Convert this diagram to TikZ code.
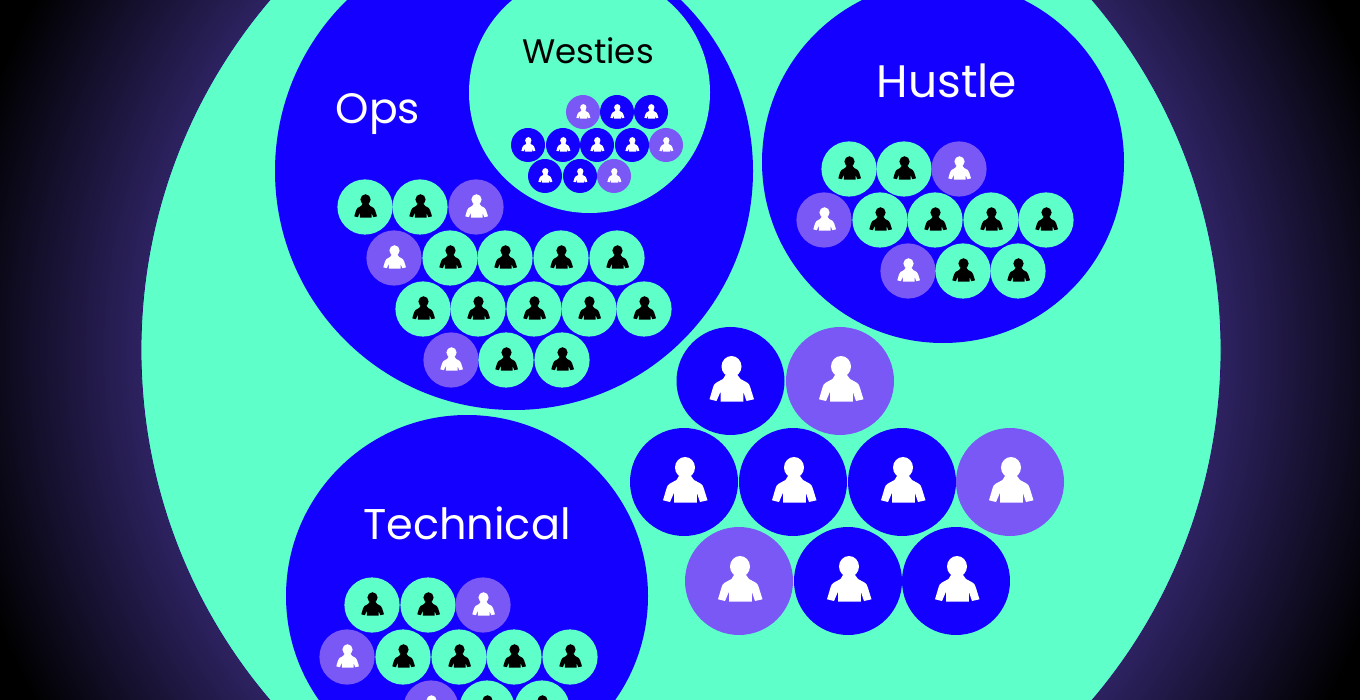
\documentclass[tikz,border=0pt]{standalone}
\usepackage{fontspec}
\setmainfont{Poppins}

\definecolor{mint}{RGB}{94,255,201}
\definecolor{royal}{RGB}{20,0,255}
\definecolor{violet}{RGB}{122,88,245}
\definecolor{dusk}{RGB}{45,34,96}
\definecolor{rim}{RGB}{44,20,110}

\pgfdeclareradialshading{glow}{\pgfpoint{0bp}{0bp}}{color(0bp)=(dusk); color(16.9bp)=(dusk); color(23bp)=(black); color(50bp)=(black)}

\tikzset{
    person/.pic={
        \fill (1,-14.5) ellipse (10 and 10.5);
        \fill (-5,-6) -- (7,-6) -- (10,-2) -- (17,1.8) .. controls (18.5,2.8) and (19.2,4.5) .. (19.8,6.5) -- (23.5,18.3) -- (16,20) -- (12.8,10.7) -- (12.8,20.7) -- (-10,20.7) -- (-10,10.7) -- (-14,20) -- (-21,18.3) -- (-17.5,6.5) .. controls (-17,4.5) and (-16.2,2.8) .. (-14.5,1.8) -- (-7.5,-2) -- cycle;
    },
    team/.style={font=\fontsize{#1}{#1}\selectfont,anchor=base},
}

% #1 size, #2 disc colour, #3 figure colour, #4 position
\newcommand{\member}[4]{
    \fill[#2] (#4) circle (#1);
    \pic[scale=#1/54,#3] at (#4) {person};
}
\newcommand{\onblue}[2]{\member{27.6}{#1}{black}{#2}}
\newcommand{\onblueV}[1]{\member{27.6}{violet}{white}{#1}}
\newcommand{\onmint}[1]{\member{17}{royal}{white}{#1}}
\newcommand{\onmintV}[1]{\member{17}{violet}{white}{#1}}

\begin{document}
\begin{tikzpicture}[x=1pt,y=-1pt]
    \useasboundingbox (0,0) rectangle (1360,700);
    \clip (0,0) rectangle (1360,700);

    %Background
    \shade[shading=glow] (681,350) circle (800);
    \fill[mint,draw=rim,line width=0.8pt] (681,350) circle (540);

    %Teams
    \fill[royal] (514,171) circle (239);
    \fill[mint] (589.5,92.5) circle (120.5);
    \fill[royal] (943,162) circle (181);
    \fill[royal] (467,596) circle (181);

    %Labels
    \node[team=42.5,white] (ops) at (378,124) {Ops};
    \node[team=34,black] (westies) at (588,64) {Westies};
    \node[team=45.5,white] (hustle) at (947,98) {Hustle};
    \node[team=43,white] (technical) at (467,539) {Technical};

    %Ops
    \onblue{mint}{365,207}
    \onblue{mint}{420,207}
    \onblueV{476,207}
    \onblueV{394,258}
    \onblue{mint}{450,258}
    \onblue{mint}{505,258}
    \onblue{mint}{561,258}
    \onblue{mint}{617,258}
    \onblue{mint}{423,309}
    \onblue{mint}{478,309}
    \onblue{mint}{534,309}
    \onblue{mint}{589,309}
    \onblue{mint}{644,309}
    \onblueV{451,360}
    \onblue{mint}{506,360}
    \onblue{mint}{562,360}

    %Westies
    \onmintV{583,112}
    \onmint{617,112}
    \onmint{651,112}
    \onmint{528,145}
    \onmint{563,145}
    \onmint{597,145}
    \onmint{632,145}
    \onmintV{666,145}
    \onmint{545,176}
    \onmint{580,176}
    \onmintV{614,176}

    %Hustle
    \onblue{mint}{849,169}
    \onblue{mint}{904,169}
    \onblueV{959,169}
    \onblueV{824,220}
    \onblue{mint}{880,220}
    \onblue{mint}{935,220}
    \onblue{mint}{991,220}
    \onblue{mint}{1046,220}
    \onblueV{908,271}
    \onblue{mint}{963,271}
    \onblue{mint}{1018,271}

    %Technical
    \onblue{mint}{372,605}
    \onblue{mint}{428,605}
    \onblueV{483,605}
    \onblueV{347,657}
    \onblue{mint}{403,657}
    \onblue{mint}{459,657}
    \onblue{mint}{514,657}
    \onblue{mint}{570,657}
    \onblueV{431,708}
    \onblue{mint}{487,708}
    \onblue{mint}{542,708}

    %Leaders
    \member{54}{royal}{white}{730.5,381}
    \member{54}{violet}{white}{840,381}
    \member{54}{royal}{white}{684,482}
    \member{54}{royal}{white}{793,482}
    \member{54}{royal}{white}{902,482}
    \member{54}{violet}{white}{1010,482}
    \member{54}{violet}{white}{739,581}
    \member{54}{royal}{white}{848,581}
    \member{54}{royal}{white}{956,581}
\end{tikzpicture}
\end{document}
